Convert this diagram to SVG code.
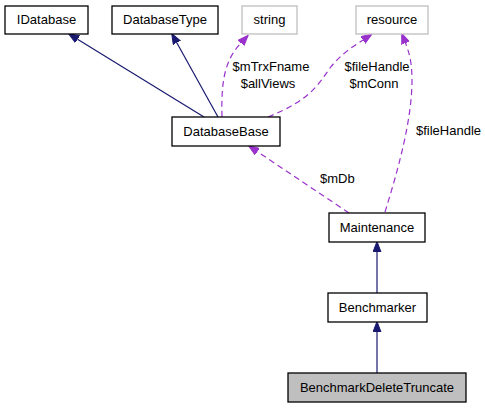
<svg xmlns="http://www.w3.org/2000/svg" width="485" height="408" viewBox="0 0 485 408">
<style>
text{font-family:"Liberation Sans",Arial,sans-serif;font-size:13px;fill:#000}
.n{text-anchor:middle}
.box{fill:#fff;stroke:#000;stroke-width:1.3}
.ext{fill:#fff;stroke:#bfbfbf;stroke-width:1.3}
.inh{fill:none;stroke:#191970;stroke-width:1.2}
.use{fill:none;stroke:#9a32cd;stroke-width:1.2;stroke-dasharray:6,4}
</style>
<defs>
<marker id="ah" markerUnits="userSpaceOnUse" markerWidth="11" markerHeight="9" refX="0" refY="4.5" orient="auto" viewBox="0 0 11 9">
<path d="M0,0.5 L10.5,4.5 L0,8.5 Z" fill="#191970" stroke="#191970"/>
</marker>
<marker id="ap" markerUnits="userSpaceOnUse" markerWidth="11" markerHeight="9" refX="0" refY="4.5" orient="auto" viewBox="0 0 11 9">
<path d="M0,0.5 L10.5,4.5 L0,8.5 Z" fill="#9a32cd" stroke="#9a32cd"/>
</marker>
</defs>
<g id="edges">
<path class="inh" d="M204,117 L77.5,39.2" marker-end="url(#ah)"/>
<path class="inh" d="M218,117 L176.8,42.7" marker-end="url(#ah)"/>
<path class="use" d="M222,117 C221,80 225,60 241,43" marker-end="url(#ap)"/>
<path class="use" d="M268,117 C310,100 318,85 330,68 C340,55 352,47 363,40" marker-end="url(#ap)"/>
<path class="use" d="M385,212 C398,170 412,120 412,80 C412,62 409,52 405.5,43" marker-end="url(#ap)"/>
<path class="use" d="M349,213 L257.3,151.6" marker-end="url(#ap)"/>
<path class="inh" d="M377,293 L377,252" marker-end="url(#ah)"/>
<path class="inh" d="M377,373 L377,332" marker-end="url(#ah)"/>
<text class="n" x="271" y="71">$mTrxFname</text>
<text class="n" x="268" y="88">$allViews</text>
<text class="n" x="377" y="71">$fileHandle</text>
<text class="n" x="374" y="88">$mConn</text>
<text x="416" y="135">$fileHandle</text>
<text x="320" y="183">$mDb</text>
</g>
<g id="IDatabase"><rect class="box" x="5" y="6" width="83" height="28"/><text class="n" x="46.5" y="24">IDatabase</text></g>
<g id="DatabaseType"><rect class="box" x="112" y="6" width="106" height="28"/><text class="n" x="165" y="24">DatabaseType</text></g>
<g id="string"><rect class="ext" x="242" y="6" width="55" height="28"/><text class="n" x="269.5" y="24">string</text></g>
<g id="resource"><rect class="ext" x="356" y="6" width="72" height="28"/><text class="n" x="392" y="24">resource</text></g>
<g id="DatabaseBase"><rect class="box" x="172" y="117" width="108" height="29"/><text class="n" x="226" y="136">DatabaseBase</text></g>
<g id="Maintenance"><rect class="box" x="329" y="213" width="96" height="29"/><text class="n" x="377" y="232">Maintenance</text></g>
<g id="Benchmarker"><rect class="box" x="328" y="293" width="99" height="29"/><text class="n" x="377.5" y="312">Benchmarker</text></g>
<g id="BenchmarkDeleteTruncate"><rect class="box" x="288" y="373" width="178" height="29" style="fill:#bfbfbf"/><text class="n" x="377" y="392">BenchmarkDeleteTruncate</text></g>
</svg>
